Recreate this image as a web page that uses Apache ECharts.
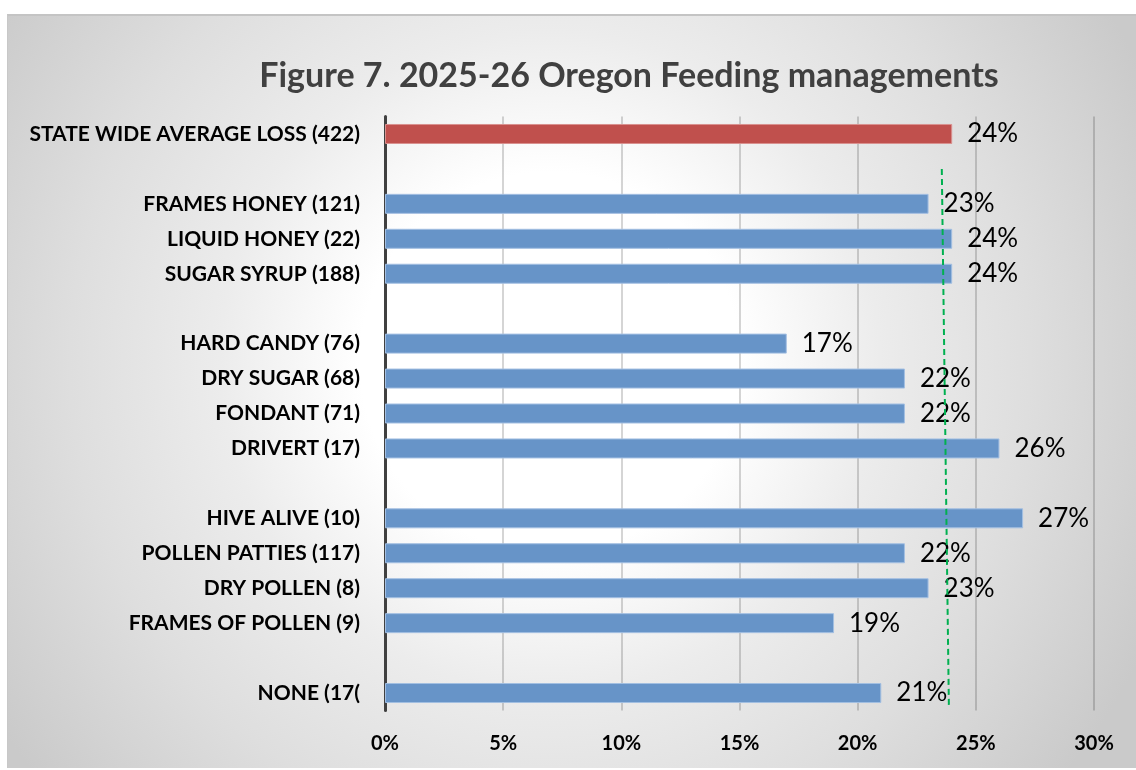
<!DOCTYPE html>
<html>
<head>
<meta charset="utf-8">
<title>Figure 7</title>
<script src="https://cdn.jsdelivr.net/npm/echarts@6/dist/echarts.min.js"></script>
<style>
  html, body { margin: 0; padding: 0; background: #fff; }
  #panel {
    position: absolute; left: 7px; top: 14px; width: 1129px; height: 752px;
    border-top: 2px solid #c4c4c4; border-left: 1px solid #c8c8c8;
    background: radial-gradient(circle at 48% 46%, #ffffff 0px, #ffffff 190px, #ececec 330px, #dedede 480px, #cacaca 660px);
  }
  #main { position: absolute; left: 0; top: 0; width: 1136px; height: 770px; }
</style>
</head>
<body>
<div id="panel"></div>
<div id="main"></div>
<script>
const categories = [
  'STATE WIDE AVERAGE LOSS (422)', '',
  'FRAMES HONEY (121)', 'LIQUID HONEY (22)', 'SUGAR SYRUP (188)', '',
  'HARD CANDY (76)', 'DRY SUGAR (68)', 'FONDANT (71)', 'DRIVERT (17)', '',
  'HIVE ALIVE (10)', 'POLLEN PATTIES (117)', 'DRY POLLEN (8)', 'FRAMES OF POLLEN (9)', '',
  'NONE (17('
];
const lossPct = [24, null, 23, 24, 24, null, 17, 22, 22, 26, null, 27, 22, 23, 19, null, 21];
const highlightIndex = 0;   // state wide average bar drawn in red
const xTicks = [0, 5, 10, 15, 20, 25, 30];
// hand drawn dashed average marker: [percent, category position]
const refLine = [[23.56, 1], [23.86, 16.4]];

const font = 'Lato, "Open Sans", sans-serif';

const chart = echarts.init(document.getElementById('main'));

const barData = lossPct.map((v, i) => {
  if (v === null) return '-';
  if (i === highlightIndex) {
    return { value: v, itemStyle: { color: '#c0504d', borderColor: '#d9918f' } };
  }
  return v;
});

chart.setOption({
  backgroundColor: 'transparent',
  animation: false,
  title: {
    text: 'Figure 7. 2025-26 Oregon Feeding managements',
    left: 624, top: 54, textAlign: 'center',
    textStyle: { fontFamily: font, fontSize: 34, fontWeight: 'bold', color: '#404040' }
  },
  grid: { left: 385, right: 42, top: 116.5, bottom: 59.5, containLabel: false },
  xAxis: {
    type: 'value', min: xTicks[0], max: xTicks[xTicks.length - 1], interval: 5,
    axisLine: { show: false }, axisTick: { show: false },
    splitLine: { show: true, lineStyle: { color: 'rgba(0,0,0,0.22)', width: 1.5 } },
    axisLabel: {
      formatter: '{value}%', margin: 23,
      fontFamily: font, fontSize: 20, fontWeight: 'bold', color: '#000'
    }
  },
  yAxis: [{
    type: 'category', inverse: true, data: categories,
    axisLine: { show: true, lineStyle: { color: '#404040', width: 3 } },
    axisTick: { show: false },
    axisLabel: { margin: 25, fontFamily: font, fontSize: 21, fontWeight: 'bold', color: '#000' }
  }, {
    type: 'value', inverse: true, min: -0.5, max: categories.length - 0.5, show: false
  }],
  series: [{
    type: 'bar', data: barData, barWidth: 20, z: 1,
    itemStyle: { color: '#6794c8', borderColor: '#a3bfe2', borderWidth: 1 },
    label: {
      show: true, position: 'right', distance: 15,
      formatter: p => p.value + '%',
      fontFamily: font, fontSize: 26, color: '#000'
    }
  }, {
    type: 'line', yAxisIndex: 1, data: refLine, symbol: 'none', silent: true, z: 5,
    lineStyle: { color: '#00b050', width: 2, type: [6, 4] }
  }]
});
</script>
</body>
</html>
